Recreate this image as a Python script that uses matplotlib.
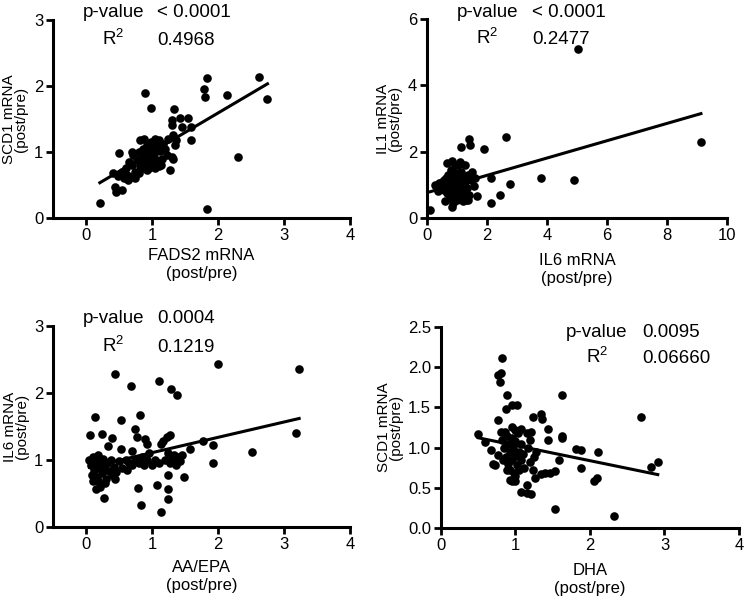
import matplotlib
matplotlib.use("Agg")
import matplotlib.pyplot as plt
import numpy as np

plt.rcParams["font.family"] = ["Liberation Sans", "DejaVu Sans"]
plt.rcParams["mathtext.fontset"] = "custom"
plt.rcParams["mathtext.rm"] = "Liberation Sans"
plt.rcParams["mathtext.default"] = "regular"

# ---- panel A: FADS2 vs SCD1 ----
fads2_x = [0.21, 1.83, 0.90, 0.98, 1.83, 1.79, 1.80, 2.13, 2.62, 2.75, 2.30, 1.33,
           1.31, 1.31, 1.42, 1.55, 1.45, 1.59, 1.59, 1.28, 1.30, 1.32, 1.37, 1.35,
           1.32, 0.50, 0.44, 0.54, 0.46, 0.49, 0.41, 0.64, 0.62,
           0.60, 0.65, 0.70, 0.72, 0.75, 0.78, 0.80, 0.82, 0.85, 0.87, 0.88, 0.90,
           0.92, 0.93, 0.95, 0.97, 0.98, 1.00, 1.00, 1.02, 1.04, 1.05, 1.07, 1.08,
           1.10, 1.12, 1.15, 1.17, 1.20, 1.22, 1.25, 0.68, 0.74, 0.80, 0.85, 0.90,
           0.96, 1.05, 0.55, 0.58, 0.70, 0.82, 0.88, 1.10, 1.14]
scd1_y = [0.22, 0.13, 1.90, 1.66, 2.12, 1.95, 1.84, 1.87, 2.13, 1.81, 0.93, 1.65,
          1.48, 1.41, 1.52, 1.52, 1.38, 1.38, 1.18, 0.72, 0.93, 0.90, 1.18, 1.11,
          1.26, 0.98, 0.47, 0.42, 0.40, 0.63, 0.68, 0.57, 0.65,
          0.75, 0.85, 0.80, 0.95, 0.70, 0.88, 1.00, 0.78, 0.92, 1.05, 0.85, 0.95,
          1.10, 0.72, 1.00, 0.90, 1.15, 1.05, 0.82, 0.95, 1.20, 1.00, 0.88, 1.10,
          1.18, 1.02, 0.90, 1.12, 1.05, 0.95, 1.20, 0.62, 0.60, 0.68, 0.75, 0.80,
          0.76, 0.75, 0.70, 0.60, 1.00, 1.18, 1.20, 0.78, 0.80]

# ---- panel B: IL6 vs IL1 ----
il6_x = [0.11, 2.63, 1.39, 1.42, 1.13, 1.91, 2.14, 2.76, 3.80, 4.89, 2.44, 2.14,
         0.83, 5.04, 9.13, 0.82,
         0.30, 0.35, 0.40, 0.45, 0.50, 0.55, 0.60, 0.62, 0.65, 0.70, 0.70, 0.75,
         0.78, 0.80, 0.80, 0.85, 0.88, 0.90, 0.92, 0.95, 0.97, 1.00, 1.00, 1.02,
         1.05, 1.08, 1.10, 1.12, 1.15, 1.18, 1.20, 1.22, 1.25, 1.28, 1.30, 1.32,
         1.35, 1.40, 1.45, 1.50, 1.55, 1.60, 1.65, 0.25, 0.55, 0.68, 0.92, 1.10,
         0.85, 0.60, 1.20, 1.38]
il1_y = [0.24, 2.45, 2.38, 2.20, 2.13, 2.08, 1.20, 1.02, 1.20, 1.15, 0.69, 0.44,
         0.32, 5.11, 2.30, 1.72,
         0.95, 0.80, 1.05, 0.90, 1.10, 0.85, 1.00, 1.20, 0.75, 1.30, 0.95, 1.10,
         0.60, 1.45, 0.85, 1.00, 1.25, 0.70, 1.10, 0.90, 1.35, 1.05, 0.55, 1.60,
         0.80, 1.15, 0.95, 1.40, 0.65, 1.05, 1.25, 0.85, 1.60, 1.10, 0.55, 0.90,
         1.30, 0.70, 1.15, 1.40, 0.95, 1.20, 0.65, 1.00, 1.15, 1.65, 1.60, 1.70,
         0.45, 0.50, 0.50, 0.55]

# ---- panel C: AA/EPA vs IL6 ----
aaepa_x = [2.00, 3.23, 3.18, 0.44, 0.68, 1.10, 1.29, 1.38, 2.51, 1.92, 1.92, 1.78,
           1.58, 0.14, 0.53, 0.82, 0.75, 0.06, 0.25, 0.40, 0.34, 0.53, 0.69, 0.78,
           0.90, 0.92, 1.14, 1.17, 1.22, 1.27, 1.49, 1.24, 0.79, 1.07, 1.24, 1.24,
           0.83, 1.13, 0.27, 0.15, 0.11, 0.09, 0.29, 0.44,
           0.05, 0.08, 0.10, 0.12, 0.14, 0.16, 0.18, 0.20, 0.22, 0.24, 0.26, 0.28,
           0.30, 0.32, 0.35, 0.38, 0.40, 0.43, 0.46, 0.50, 0.55, 0.60, 0.65, 0.70,
           0.75, 0.80, 0.85, 0.88, 0.92, 0.95, 1.00, 1.05, 1.10, 1.28, 1.30, 1.33,
           1.36, 1.40, 1.42, 1.45, 1.25, 1.20, 0.62, 0.18, 0.22]
il6_y = [2.43, 2.36, 1.41, 2.28, 2.10, 2.18, 2.06, 1.97, 1.12, 1.23, 0.95, 1.29,
         1.17, 1.64, 1.60, 1.67, 1.46, 1.37, 1.39, 1.33, 1.21, 1.16, 1.14, 1.34,
         1.31, 1.24, 1.24, 1.29, 1.34, 1.38, 0.74, 0.77, 0.58, 0.63, 0.56, 0.42,
         0.33, 0.23, 0.44, 0.57, 0.68, 0.78, 0.66, 0.72,
         1.00, 0.92, 1.05, 0.85, 0.95, 0.75, 1.08, 0.88, 0.98, 0.80, 1.02, 0.90,
         0.72, 0.95, 0.84, 1.00, 0.78, 0.90, 0.82, 0.98, 0.88, 1.00, 0.95, 0.92,
         1.00, 0.95, 1.05, 0.93, 1.00, 1.10, 0.92, 1.00, 0.96, 0.95, 1.02, 1.08,
         0.92, 1.05, 0.98, 1.08, 1.10, 1.00, 0.85, 0.68, 0.60]

# ---- panel D: DHA vs SCD1 ----
dha_x = [0.82, 0.76, 0.80, 0.79, 0.88, 0.87, 0.95, 1.02, 1.63, 2.68, 0.76, 1.24,
         1.34, 1.35, 1.43, 1.44, 1.62, 1.62, 0.50, 0.59, 0.67, 0.72, 0.70, 0.77,
         1.81, 1.88, 2.11, 1.88, 1.59, 2.05, 2.09, 2.82, 2.91, 1.53, 2.32, 1.07,
         1.15, 1.21, 1.16, 0.95, 1.00, 1.26, 1.34, 1.39, 1.46, 1.53, 1.19, 1.23,
         1.17, 1.28, 1.15, 1.19, 1.21, 1.08, 0.99,
         0.82, 0.85, 0.87, 0.88, 0.90, 0.90, 0.92, 0.93, 0.95, 0.95, 0.97, 0.98,
         1.00, 1.00, 1.02, 1.03, 1.05, 1.05, 1.07, 1.08, 0.83, 0.80, 0.86, 0.96,
         1.10, 1.12, 0.92, 1.00, 0.88, 1.25]
scd1_dha_y = [2.11, 1.90, 1.93, 1.82, 1.65, 1.48, 1.53, 1.53, 1.66, 1.38, 1.34, 1.38,
              1.42, 1.35, 1.23, 1.09, 1.15, 1.12, 1.17, 1.07, 0.97, 0.78, 0.80, 0.91,
              0.98, 0.97, 0.95, 0.75, 0.84, 0.58, 0.62, 0.76, 0.82, 0.24, 0.15, 0.45,
              0.43, 0.42, 0.54, 0.59, 0.58, 0.62, 0.67, 0.69, 0.68, 0.71, 0.82, 0.72,
              1.00, 0.95, 1.18, 1.10, 1.20, 1.23, 1.22,
              1.10, 1.00, 0.88, 1.15, 0.80, 1.05, 0.95, 0.72, 1.12, 0.85, 1.00, 0.68,
              1.08, 0.90, 0.78, 1.18, 0.95, 0.72, 0.85, 1.05, 0.85, 1.20, 1.20, 1.25,
              0.92, 0.75, 0.60, 0.65, 0.72, 0.88]

# fitted lines: (slope, intercept)
fits = [(0.59, 0.41), (0.261, 0.764), (0.229, 0.88), (-0.19, 1.217)]

x_labels = ["FADS2 mRNA\n(post/pre)", "IL6 mRNA\n(post/pre)",
            "AA/EPA\n(post/pre)", "DHA\n(post/pre)"]
y_labels = ["SCD1 mRNA\n(post/pre)", "IL1 mRNA\n(post/pre)",
            "IL6 mRNA\n(post/pre)", "SCD1 mRNA\n(post/pre)"]
p_values = ["< 0.0001", "< 0.0001", "0.0004", "0.0095"]
r_squared = ["0.4968", "0.2477", "0.1219", "0.06660"]

xs = [fads2_x, il6_x, aaepa_x, dha_x]
ys = [scd1_y, il1_y, il6_y, scd1_dha_y]

# layout per panel
rects = [[0.0711, 0.6373, 0.3987, 0.3295],
         [0.5732, 0.6373, 0.4027, 0.3311],
         [0.0711, 0.1231, 0.3987, 0.3345],
         [0.5919, 0.1215, 0.4000, 0.3344]]
xlims = [(-0.5, 4), (0, 10), (-0.5, 4), (0, 4)]
xticks = [[0, 1, 2, 3, 4], [0, 2, 4, 6, 8, 10], [0, 1, 2, 3, 4], [0, 1, 2, 3, 4]]
ylims = [(0, 3), (0, 6), (0, 3), (0, 2.5)]
yticks = [[0, 1, 2, 3], [0, 2, 4, 6], [0, 1, 2, 3], [0, 0.5, 1.0, 1.5, 2.0, 2.5]]
ylabel_x = [-0.083, -0.082, -0.081, -0.127]
xlabel_y = [-0.152, -0.177, -0.164, -0.174]
txt_pos = [(0.204, 0.35, 1.017, 0.874), (0.202, 0.35, 1.012, 0.873),
           (0.203, 0.35, 1.016, 0.872), (0.5235, 0.674, 0.952, 0.819)]

fig = plt.figure(figsize=(7.45, 6.01), dpi=100)

for i in range(4):
    ax = fig.add_axes(rects[i])
    x = np.array(xs[i])
    y = np.array(ys[i])
    ax.plot(x, y, "o", color="black", ms=6.2, mew=0, clip_on=False, zorder=3)
    m, b = fits[i]
    xl = np.array([x.min(), x.max()])
    ax.plot(xl, m * xl + b, color="black", lw=2.2, zorder=4)

    ax.set_xlim(*xlims[i])
    ax.set_ylim(*ylims[i])
    ax.set_xticks(xticks[i])
    ax.set_yticks(yticks[i])
    if i == 3:
        ax.set_yticklabels([f"{v:.1f}" for v in yticks[i]])
    for s in ["top", "right"]:
        ax.spines[s].set_visible(False)
    for s in ["left", "bottom"]:
        ax.spines[s].set_linewidth(2.2)
    ax.tick_params(width=2.0, length=5, labelsize=12, direction="out", pad=2)

    ax.set_xlabel(x_labels[i], fontsize=12, linespacing=1.25)
    ax.xaxis.set_label_coords(0.5, xlabel_y[i])
    ax.set_ylabel(y_labels[i], fontsize=11, linespacing=0.85)
    ax.yaxis.set_label_coords(ylabel_x[i], 0.5)

    cx, vx, y1, y2 = txt_pos[i]
    ax.text(cx, y1, "p-value", transform=ax.transAxes, ha="center",
            va="baseline", fontsize=13.5, clip_on=False)
    ax.text(vx, y1, p_values[i], transform=ax.transAxes, ha="left",
            va="baseline", fontsize=13.5, clip_on=False)
    ax.text(cx, y2, "R$^2$", transform=ax.transAxes, ha="center",
            va="baseline", fontsize=13.5, clip_on=False)
    ax.text(vx, y2, r_squared[i], transform=ax.transAxes, ha="left",
            va="baseline", fontsize=13.5, clip_on=False)

fig.savefig("out.png", dpi=100, facecolor="white")
